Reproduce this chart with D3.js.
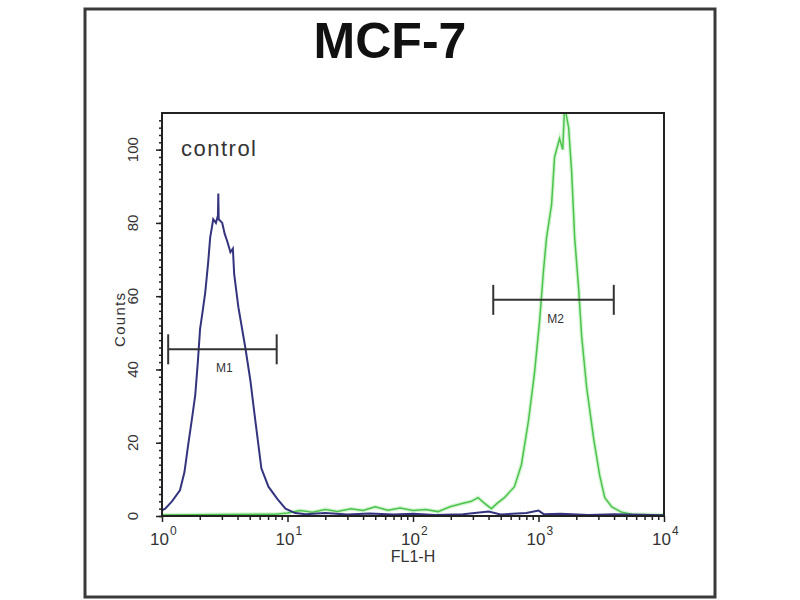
<!DOCTYPE html>
<html>
<head>
<meta charset="utf-8">
<script src="https://cdn.jsdelivr.net/npm/d3@7"></script>
<style>
body { margin: 0; background: #fff; }
text { font-family: "Liberation Sans", Arial, sans-serif; }
</style>
</head>
<body>
<script>
// histogram data: FL1-H channel value and counts
var blueFL = [1.00, 1.06, 1.20, 1.39, 1.51, 1.61, 1.74, 1.84, 1.93, 2.01, 2.11, 2.21, 2.33, 2.42, 2.56, 2.69, 2.79, 2.81, 2.83, 3.02, 3.16, 3.31, 3.51, 3.67, 3.76, 4.06, 4.61, 5.06, 5.45, 6.19, 7.05, 8.32, 9.64, 11.5, 14, 20, 30, 45, 70, 100, 150, 250, 400, 500, 800, 1000, 1100, 1500, 2500, 4000, 10000];
var blueCounts = [1.5, 2, 4, 7, 12, 19, 27, 33, 42, 51, 56, 61, 69, 76, 81, 80, 82, 88, 81, 80, 77, 75, 72, 73, 66, 57, 46, 37, 28, 13, 8, 4.6, 2, 0.8, 0.5, 0.8, 0.4, 0.7, 0.4, 0.6, 0.3, 0.5, 1.2, 0.4, 0.8, 1.5, 0.5, 0.6, 0.3, 0.5, 0.2];

var greenFL = [1.0, 3, 8, 10, 12.6, 15.8, 20, 25, 32, 40, 50, 63, 79, 100, 126, 158, 200, 251, 291, 330, 370, 421, 470, 535, 643, 731, 832, 929, 1019, 1096, 1159, 1271, 1343, 1472, 1560, 1614, 1738, 1837, 1941, 2089, 2208, 2421, 2754, 3076, 3373, 3837, 4613, 5546, 10000];
var greenCounts = [0.3, 0.4, 0.5, 0.8, 1.5, 1.0, 1.8, 1.2, 2.0, 1.5, 2.5, 1.6, 2.2, 1.5, 1.8, 1.2, 2.6, 3.5, 4, 5, 3.5, 2, 3.5, 5, 8, 14, 26, 39, 53, 67, 76, 85, 98, 103, 100, 112, 106, 94, 76, 62, 49, 35, 21, 11, 5, 2.5, 1, 0.5, 0.3];

// gate markers
var markerNames = ["M1", "M2"];
var markerFrom = [1.12, 436];
var markerTo = [8.2, 3980];
var markerLevel = [45.5, 59];

var yTicks = [0, 20, 40, 60, 80, 100];
var xDecades = [0, 1, 2, 3, 4];

var W = 800, H = 600;
var margin = { left: 162, right: 136, top: 113, bottom: 84 };
var svg = d3.select("body").append("svg").attr("width", W).attr("height", H);

// outer frame
svg.append("rect").attr("x", 85).attr("y", 9).attr("width", 630).attr("height", 588)
    .attr("fill", "none").attr("stroke", "#3a3a3a").attr("stroke-width", 3);

svg.append("text").attr("x", 390).attr("y", 58).attr("text-anchor", "middle")
    .attr("font-size", 50).attr("font-weight", "bold").attr("fill", "#111").text("MCF-7");

var x = d3.scaleLog().domain([1, 10000]).range([margin.left, W - margin.right]);
var y = d3.scaleLinear().domain([0, 110]).range([H - margin.bottom, margin.top]);

svg.append("defs").append("clipPath").attr("id", "plotclip").append("rect")
    .attr("x", margin.left).attr("y", margin.top)
    .attr("width", W - margin.left - margin.right).attr("height", H - margin.top - margin.bottom);

var line = d3.line()
    .x(function (d) { return x(d[0]); })
    .y(function (d) { return y(d[1]); });

var greenData = greenFL.map(function (v, i) { return [v, greenCounts[i]]; });
var blueData = blueFL.map(function (v, i) { return [v, blueCounts[i]]; });

var plot = svg.append("g").attr("clip-path", "url(#plotclip)");
plot.append("path").attr("d", line(greenData)).attr("fill", "none")
    .attr("stroke", "#b8ecb8").attr("stroke-width", 4).attr("stroke-opacity", 0.6);
plot.append("path").attr("d", line(greenData)).attr("fill", "none")
    .attr("stroke", "#4cc44c").attr("stroke-width", 1.5);
plot.append("path").attr("d", line(blueData)).attr("fill", "none")
    .attr("stroke", "#34347e").attr("stroke-width", 2);

// plot box
svg.append("rect").attr("x", margin.left).attr("y", margin.top)
    .attr("width", W - margin.left - margin.right).attr("height", H - margin.top - margin.bottom)
    .attr("fill", "none").attr("stroke", "#222").attr("stroke-width", 2);

// y axis
var yMinor = d3.range(0, 110, 2);
var yAxisMinor = d3.axisLeft(y).tickValues(yMinor).tickSize(3).tickFormat("");
svg.append("g").attr("transform", "translate(" + margin.left + ",0)").call(yAxisMinor)
    .call(function (g) { g.select(".domain").remove(); g.selectAll("line").attr("stroke", "#222").attr("stroke-width", 1.5); });
var yAxis = d3.axisLeft(y).tickValues(yTicks).tickSize(6).tickFormat("");
svg.append("g").attr("transform", "translate(" + margin.left + ",0)").call(yAxis)
    .call(function (g) { g.select(".domain").remove(); g.selectAll("line").attr("stroke", "#222").attr("stroke-width", 1.5); });
svg.selectAll("text.ylab").data(yTicks).enter().append("text").attr("class", "ylab")
    .attr("transform", function (d) { return "translate(138," + y(d) + ") rotate(-90)"; })
    .attr("text-anchor", "middle").attr("font-size", 15).attr("fill", "#333")
    .text(function (d) { return d; });
svg.append("text").attr("transform", "translate(125,320) rotate(-90)")
    .attr("text-anchor", "middle").attr("font-size", 15).attr("fill", "#333")
    .attr("textLength", 54).text("Counts");

// x axis
var xMinor = [];
xDecades.slice(0, -1).forEach(function (e) {
    for (var k = 2; k <= 9; k++) xMinor.push(k * Math.pow(10, e));
});
var xAxisMinor = d3.axisBottom(x).tickValues(xMinor).tickSize(4).tickFormat("");
svg.append("g").attr("transform", "translate(0," + (H - margin.bottom) + ")").call(xAxisMinor)
    .call(function (g) { g.select(".domain").remove(); g.selectAll("line").attr("stroke", "#222").attr("stroke-width", 1.5); });
var xAxis = d3.axisBottom(x).tickValues(xDecades.map(function (e) { return Math.pow(10, e); })).tickSize(6).tickFormat("");
svg.append("g").attr("transform", "translate(0," + (H - margin.bottom) + ")").call(xAxis)
    .call(function (g) { g.select(".domain").remove(); g.selectAll("line").attr("stroke", "#222").attr("stroke-width", 1.5); });
var xl = svg.selectAll("text.xlab").data(xDecades).enter().append("text").attr("class", "xlab")
    .attr("x", function (d) { return x(Math.pow(10, d)) - 12; })
    .attr("y", 545).attr("font-size", 17).attr("fill", "#333");
xl.append("tspan").text("10");
xl.append("tspan").attr("dy", -10).attr("dx", 1).attr("font-size", 12).text(function (d) { return d; });
svg.append("text").attr("x", 413).attr("y", 562).attr("text-anchor", "middle")
    .attr("font-size", 16).attr("fill", "#333").text("FL1-H");

svg.append("text").attr("x", 181).attr("y", 156).attr("font-size", 22).attr("fill", "#333")
    .attr("textLength", 75).text("control");

// markers
markerNames.forEach(function (m, i) {
    var g = svg.append("g").attr("stroke", "#333").attr("stroke-width", 2);
    var yy = y(markerLevel[i]);
    g.append("line").attr("x1", x(markerFrom[i])).attr("x2", x(markerTo[i])).attr("y1", yy).attr("y2", yy);
    g.append("line").attr("x1", x(markerFrom[i])).attr("x2", x(markerFrom[i])).attr("y1", yy - 15).attr("y2", yy + 15);
    g.append("line").attr("x1", x(markerTo[i])).attr("x2", x(markerTo[i])).attr("y1", yy - 15).attr("y2", yy + 15);
    svg.append("text").attr("x", (x(markerFrom[i]) + x(markerTo[i])) / 2 + 2)
        .attr("y", yy + 23).attr("text-anchor", "middle").attr("font-size", 12).attr("fill", "#333").text(m);
});
</script>
</body>
</html>
